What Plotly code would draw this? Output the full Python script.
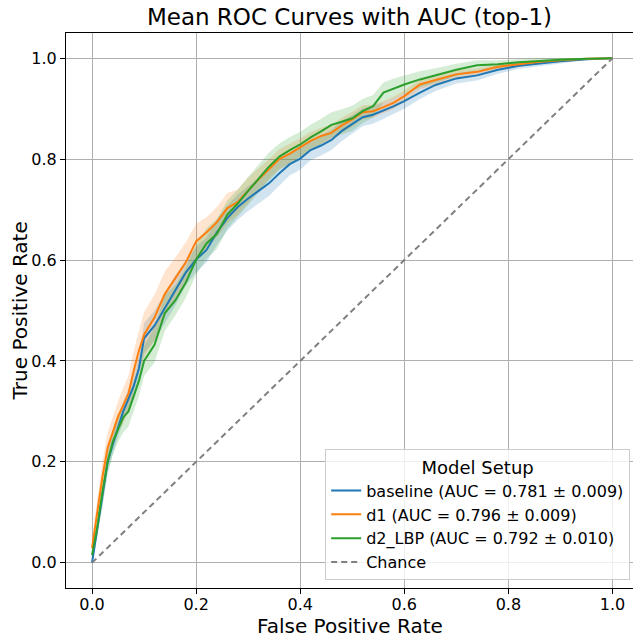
import numpy as np
from plotly import graph_objects as go

# common false positive rate grid
fpr = [0.0, 0.01, 0.02, 0.03, 0.04, 0.05, 0.06, 0.07, 0.08, 0.09, 0.10,
       0.12, 0.14, 0.16, 0.18, 0.20, 0.22, 0.24, 0.26, 0.28, 0.30, 0.32, 0.34,
       0.36, 0.38, 0.40, 0.42, 0.44, 0.46, 0.48, 0.50, 0.52, 0.54, 0.56, 0.58, 0.60,
       0.63, 0.66, 0.70, 0.74, 0.78, 0.82, 0.86, 0.90, 0.95, 1.0]

tpr_baseline = [0.0, 0.065, 0.13, 0.2, 0.235, 0.27, 0.30, 0.325, 0.35, 0.385, 0.445,
                0.47, 0.505, 0.54, 0.575, 0.601, 0.62, 0.655, 0.683, 0.705, 0.722, 0.737, 0.752,
                0.772, 0.79, 0.801, 0.818, 0.827, 0.838, 0.856, 0.869, 0.883, 0.888, 0.896, 0.905, 0.915,
                0.932, 0.947, 0.96, 0.966, 0.977, 0.985, 0.99, 0.994, 0.998, 1.0]
std_baseline = [0.0, 0.01, 0.02, 0.02, 0.02, 0.02, 0.02, 0.02, 0.025, 0.025, 0.03,
                0.03, 0.03, 0.03, 0.025, 0.025, 0.025, 0.025, 0.025, 0.025, 0.025, 0.025, 0.025,
                0.025, 0.022, 0.022, 0.02, 0.02, 0.02, 0.02, 0.018, 0.018, 0.018, 0.016, 0.015, 0.015,
                0.013, 0.012, 0.01, 0.01, 0.008, 0.006, 0.005, 0.004, 0.002, 0.0]

tpr_d1 = [0.029, 0.1, 0.17, 0.228, 0.26, 0.29, 0.312, 0.335, 0.38, 0.42, 0.452,
          0.486, 0.533, 0.565, 0.595, 0.637, 0.655, 0.675, 0.703, 0.715, 0.738, 0.76, 0.78,
          0.80, 0.811, 0.823, 0.836, 0.846, 0.852, 0.867, 0.879, 0.893, 0.895, 0.903, 0.912, 0.925,
          0.948, 0.957, 0.968, 0.973, 0.983, 0.988, 0.993, 0.996, 0.999, 1.0]
std_d1 = [0.02, 0.03, 0.03, 0.03, 0.03, 0.03, 0.035, 0.035, 0.04, 0.04, 0.045,
          0.045, 0.045, 0.04, 0.04, 0.035, 0.03, 0.03, 0.03, 0.025, 0.025, 0.022, 0.02,
          0.02, 0.02, 0.018, 0.018, 0.016, 0.016, 0.015, 0.015, 0.014, 0.013, 0.012, 0.012, 0.011,
          0.01, 0.009, 0.008, 0.007, 0.006, 0.005, 0.004, 0.003, 0.002, 0.0]

tpr_d2 = [0.015, 0.07, 0.14, 0.2, 0.24, 0.265, 0.288, 0.30, 0.33, 0.36, 0.40,
          0.432, 0.495, 0.52, 0.555, 0.601, 0.633, 0.652, 0.69, 0.712, 0.737, 0.761, 0.785,
          0.805, 0.818, 0.829, 0.843, 0.855, 0.868, 0.874, 0.881, 0.895, 0.905, 0.932, 0.94, 0.948,
          0.958, 0.966, 0.977, 0.986, 0.988, 0.992, 0.995, 0.997, 0.999, 1.0]
std_d2 = [0.01, 0.02, 0.025, 0.025, 0.025, 0.025, 0.03, 0.03, 0.03, 0.03, 0.03,
          0.035, 0.035, 0.03, 0.03, 0.03, 0.03, 0.03, 0.028, 0.028, 0.028, 0.028, 0.028,
          0.026, 0.026, 0.025, 0.025, 0.025, 0.025, 0.025, 0.025, 0.024, 0.022, 0.02, 0.02, 0.018,
          0.016, 0.014, 0.012, 0.01, 0.008, 0.006, 0.005, 0.004, 0.002, 0.0]

labels = ['baseline (AUC = 0.781 ± 0.009)',
          'd1 (AUC = 0.796 ± 0.009)',
          'd2_LBP (AUC = 0.792 ± 0.010)']
colors = ['#1f77b4', '#ff7f0e', '#2ca02c']
fills = ['rgba(31,119,180,0.2)', 'rgba(255,127,14,0.2)', 'rgba(44,160,44,0.2)']

series = [(tpr_baseline, std_baseline), (tpr_d1, std_d1), (tpr_d2, std_d2)]

FONT = 'DejaVu Sans'

fig = go.Figure()

# shaded +/- std bands first so lines sit on top
for (tpr, std), fc in zip(series, fills):
    t = np.array(tpr)
    s = np.array(std)
    upper = np.minimum(t + s, 1)
    lower = np.maximum(t - s, 0)
    fig.add_trace(go.Scatter(
        x=fpr + fpr[::-1],
        y=list(upper) + list(lower[::-1]),
        fill='toself',
        fillcolor=fc,
        line=dict(width=0),
        mode='lines',
        showlegend=False,
        hoverinfo='skip',
    ))

for (tpr, std), lab, col in zip(series, labels, colors):
    fig.add_trace(go.Scatter(
        x=fpr, y=tpr, mode='lines', name=lab,
        line=dict(color=col, width=2),
    ))

fig.add_trace(go.Scatter(
    x=[0, 1], y=[0, 1], mode='lines', name='Chance',
    line=dict(color='gray', width=2, dash='6px,4px'),
))

axis_common = dict(
    showgrid=True, gridcolor='#b0b0b0', gridwidth=1,
    zeroline=False,
    showline=True, linecolor='black', linewidth=1,
    ticks='outside', ticklen=5, tickcolor='black',
    tickformat='.1f', dtick=0.2,
    tickfont=dict(family=FONT, size=16, color='black'),
)

fig.update_xaxes(range=[-0.05, 1.0394], mirror=True, ticklabelstandoff=-3, **axis_common)
fig.update_yaxes(range=[-0.05, 1.05], **axis_common)

fig.update_layout(
    width=633, height=637,
    margin=dict(l=66, r=0, t=33, b=49),
    plot_bgcolor='white', paper_bgcolor='white',
    font=dict(family=FONT, color='black'),
    title=dict(text='Mean ROC Curves with AUC (top-1)', x=0.5, xref='paper',
               y=1 - 17 / 637, yref='container', yanchor='middle',
               font=dict(family=FONT, size=23, color='black')),
    legend=dict(
        title=dict(text='Model Setup', side='top center',
                   font=dict(family=FONT, size=18, color='black')),
        font=dict(family=FONT, size=16, color='black'),
        x=0.995, y=0.014, xanchor='right', yanchor='bottom',
        bgcolor='rgba(255,255,255,0.8)', bordercolor='#cccccc', borderwidth=1,
    ),
    annotations=[
        dict(text='False Positive Rate', x=0.5, xref='paper', y=-38 / 554,
             yref='paper', showarrow=False, yanchor='middle',
             font=dict(family=FONT, size=20, color='black')),
        dict(text='True Positive Rate', x=-46 / 566, xref='paper', y=0.5,
             yref='paper', showarrow=False, textangle=-90, xanchor='center',
             font=dict(family=FONT, size=20, color='black')),
    ],
)

# the page is photographed from its top-left corner: drop the default body margin
fig.write_html("out.html", config={'displayModeBar': False},
               post_script="document.body.style.margin='0px';")
